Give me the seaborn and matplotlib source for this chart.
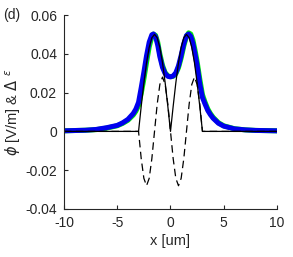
import matplotlib
matplotlib.use("Agg")
import matplotlib.pyplot as plt
import seaborn as sns
import pandas as pd

# smoothed field (blue) and a second slightly shifted run (green)
x_smooth = [-10, -8, -7, -6, -5, -4.5, -4, -3.5, -3.25, -3, -2.75, -2.5, -2.25, -2, -1.75,
            -1.6, -1.4, -1.2, -1, -0.75, -0.5, -0.25, 0, 0.25, 0.5, 0.75, 1, 1.25, 1.5,
            1.7, 1.9, 2.1, 2.3, 2.5, 2.75, 3, 3.25, 3.5, 3.75, 4, 4.5, 5, 6, 7, 8, 10]
phi_blue = [0.0003, 0.0006, 0.001, 0.0019, 0.0031, 0.0044, 0.0062, 0.0092, 0.0115, 0.0150,
            0.0225, 0.0305, 0.0390, 0.0460, 0.0498, 0.0502, 0.0488, 0.0445, 0.0385, 0.0330,
            0.0298, 0.0284, 0.0281, 0.0286, 0.0302, 0.0338, 0.0392, 0.0452, 0.0494, 0.0502,
            0.0490, 0.0455, 0.0400, 0.0340, 0.0245, 0.0175, 0.0140, 0.0108, 0.0086, 0.0068,
            0.0042, 0.0027, 0.0013, 0.0008, 0.0005, 0.0003]
phi_green = [0.0003, 0.0006, 0.0009, 0.0017, 0.0029, 0.0041, 0.0057, 0.0084, 0.0104, 0.0133,
             0.0195, 0.0270, 0.0355, 0.0435, 0.0488, 0.0502, 0.0495, 0.0460, 0.0400, 0.0340,
             0.0303, 0.0287, 0.0282, 0.0284, 0.0297, 0.0328, 0.0378, 0.0440, 0.0490, 0.0508,
             0.0502, 0.0472, 0.0420, 0.0360, 0.0270, 0.0190, 0.0150, 0.0116, 0.0092, 0.0073,
             0.0045, 0.0029, 0.0014, 0.0008, 0.0005, 0.0003]

# source field (solid black) and permittivity change (dashed black)
x_src = [-10, -3, -2.75, -2.5, -2.25, -2, -1.75, -1.5, -1.25, -1, -0.75, -0.5, -0.25, 0,
         0.25, 0.5, 0.75, 1, 1.25, 1.5, 1.75, 2, 2.25, 2.5, 2.75, 3, 10]
phi_src = [0, 0, 0.0129, 0.025, 0.0354, 0.0433, 0.0483, 0.05, 0.0483, 0.0433, 0.0354, 0.025,
           0.0129, 0, 0.0129, 0.025, 0.0354, 0.0433, 0.0483, 0.05, 0.0483, 0.0433, 0.0354,
           0.025, 0.0129, 0, 0]
d_eps = [0, 0, -0.014, -0.0242, -0.028, -0.0242, -0.014, 0, 0.014, 0.0242, 0.028, 0.0242,
         0.014, 0, -0.014, -0.0242, -0.028, -0.0242, -0.014, 0, 0.014, 0.0242, 0.028, 0.0242,
         0.014, 0, 0]

sns.set_theme(style="ticks")
plt.rcParams["font.family"] = ["Liberation Sans", "DejaVu Sans"]
plt.rcParams["axes.unicode_minus"] = False
plt.rcParams["mathtext.fontset"] = "dejavusans"

smooth = pd.DataFrame({"x": x_smooth, "blue": phi_blue, "green": phi_green})
src = pd.DataFrame({"x": x_src, "phi": phi_src, "deps": d_eps})

fig = plt.figure(figsize=(2.93, 2.57), dpi=100)
ax = fig.add_axes([0.2184, 0.1868, 0.727, 0.7548])

sns.lineplot(data=smooth, x="x", y="green", color="#00ee00", lw=3.6, ax=ax)
sns.lineplot(data=smooth, x="x", y="blue", color="#0000ee", lw=3.6, ax=ax)
sns.lineplot(data=src, x="x", y="phi", color="black", lw=0.9, ax=ax)
sns.lineplot(data=src, x="x", y="deps", color="black", lw=0.9, ax=ax,
             linestyle=(0, (6, 3.5)))

ax.set_xlim(-10, 10)
ax.set_ylim(-0.04, 0.06)
ax.set_xticks([-10, -5, 0, 5, 10])
ax.set_xticklabels(["-10", "-5", "0", "5", "10"])
ax.set_yticks([-0.04, -0.02, 0, 0.02, 0.04, 0.06])
ax.set_yticklabels(["-0.04", "-0.02", "0", "0.02", "0.04", "0.06"])
ax.tick_params(direction="in", length=3, width=0.8, colors="#262626",
               labelsize=10, pad=5)
for side in ["left", "bottom"]:
    ax.spines[side].set_color("#262626")
    ax.spines[side].set_linewidth(0.8)
sns.despine(ax=ax)

ax.set_xlabel("x [um]", fontsize=10.5, color="#262626", labelpad=3)
ax.set_ylabel(r"$\phi$ [V/m] & $\Delta\ ^{\epsilon}$", fontsize=10.5,
              color="#262626", labelpad=2)
fig.text(0.012, 0.942, "(d)", fontsize=10, color="#262626", va="center", ha="left")

fig.savefig("out.png", dpi=100)
